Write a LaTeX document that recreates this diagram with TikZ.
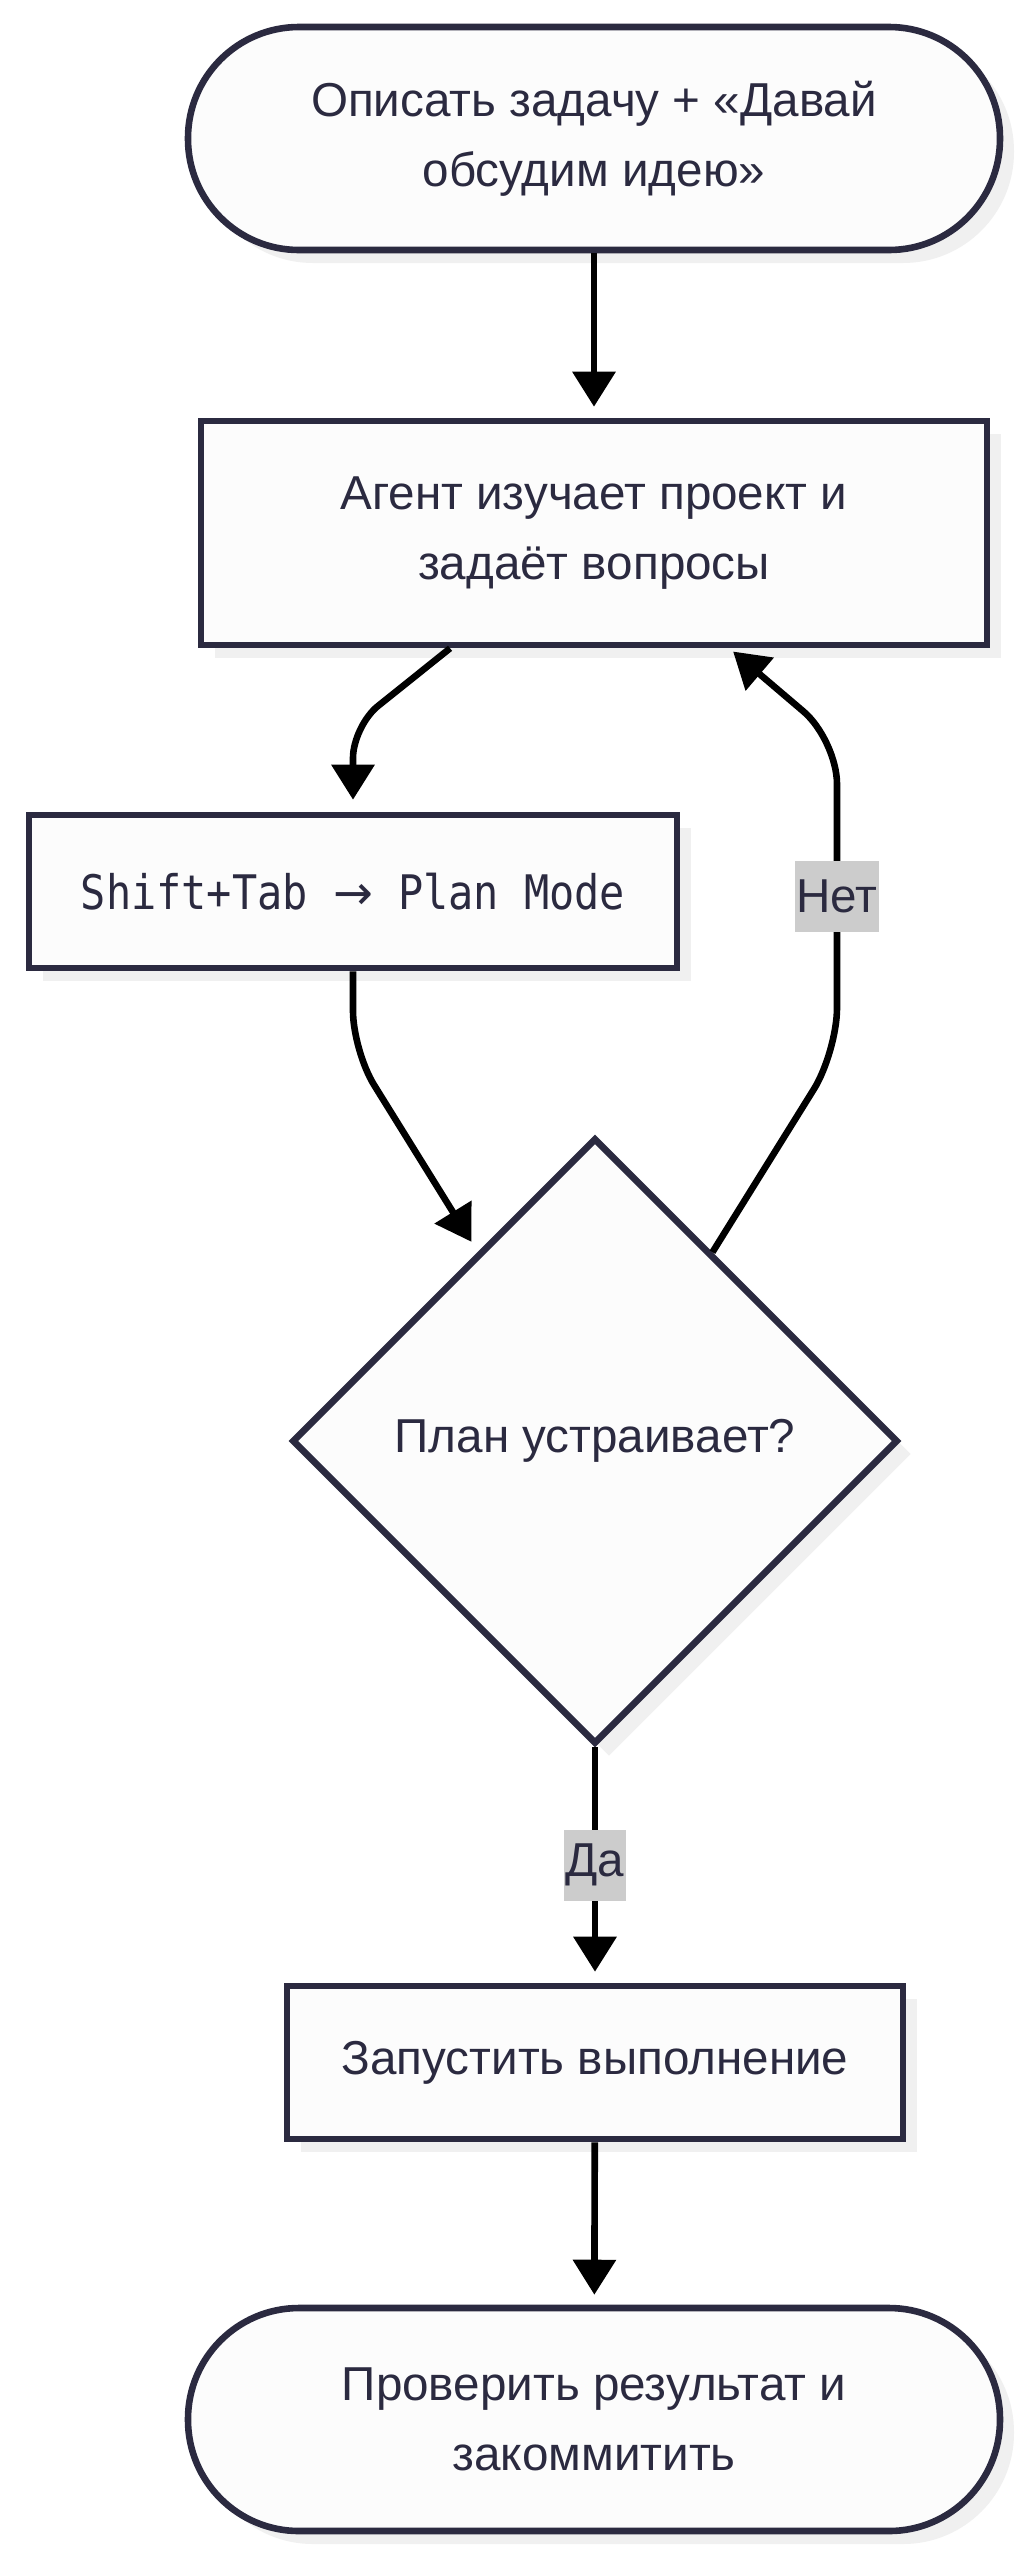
\documentclass[tikz,border=0pt]{standalone}
\usepackage{fontspec}
\setmainfont{Liberation Sans}
\newfontfamily\codefont[FakeStretch=0.88]{DejaVu Sans Mono}
\newfontfamily\arrowfont{DejaVu Sans}
\usetikzlibrary{arrows.meta, shapes.geometric, shadows}

\definecolor{ink}{RGB}{43,42,64}
\definecolor{paper}{RGB}{252,252,252}

\begin{document}
\begin{tikzpicture}[
  x=0.5pt, y=-0.5pt,
  every node/.style={align=center, text=ink, font=\fontsize{23.8}{35}\selectfont},
  arr/.style={-{Triangle[length=17.5pt, width=21pt]}, line width=3.3pt, draw=black},
  box/.style={draw=ink, line width=3.3pt, fill=paper, inner sep=0pt,
              drop shadow={shadow xshift=7pt, shadow yshift=-6.5pt, fill=black!6, opacity=1}},
  term/.style={box, rectangle, rounded corners=55.5pt, minimum width=406pt, minimum height=111.5pt},
  proc/.style={box, rectangle, minimum height=76.5pt},
  decision/.style={box, diamond, aspect=1, minimum width=303pt, minimum height=303pt},
  lbl/.style={sharp corners, fill=gray!40, inner xsep=0.8pt, inner ysep=0pt, minimum height=35.5pt},
]

\fill[white] (0,0) rectangle (1029,2560);
\useasboundingbox (0,0) rectangle (1029,2560);

% ------------------------------------------------------------------ nodes
\node[term] (start)  at (594,138.5) {Описать задачу + «Давай\\обсудим идею»};
\node[proc, minimum width=393pt, minimum height=112pt] (agent) at (594,533) {Агент изучает проект и\\задаёт вопросы};
\node[proc, minimum width=324pt] (plan)  at (353,891.5) {\codefont Shift+Tab {\arrowfont →} Plan Mode};
\node[decision] (check) at (595,1441) {План устраивает?};
\node[proc, minimum width=308pt] (run)   at (595,2062.5) {Запустить выполнение};
\node[term] (finish) at (594,2419.5) {Проверить результат и\\закоммитить};

% ------------------------------------------------------------ bend points
\coordinate (k1) at (353,726);
\coordinate (k2) at (353,1051);
\coordinate (k3) at (837,1052);
\coordinate (k4) at (837,740);

% ---------------------------------------------------------------- arrows
\draw[arr, shorten >=5.5pt] (start) -- (agent);
\draw[arr, rounded corners=16pt, shorten >=6pt] (agent) -- (k1) -- (plan);
\draw[arr, rounded corners=20pt, shorten >=6pt] (plan) -- (k2) -- (check);
\draw[arr, rounded corners=22pt, shorten >=2.5pt] (check) -- (k3) -- node[lbl] {Нет} (k4) -- (agent);
\draw[arr, shorten >=5.5pt] (check) -- node[lbl] {Да} (run);
\draw[arr, shorten >=5pt] (run) -- (finish);

\end{tikzpicture}
\end{document}
